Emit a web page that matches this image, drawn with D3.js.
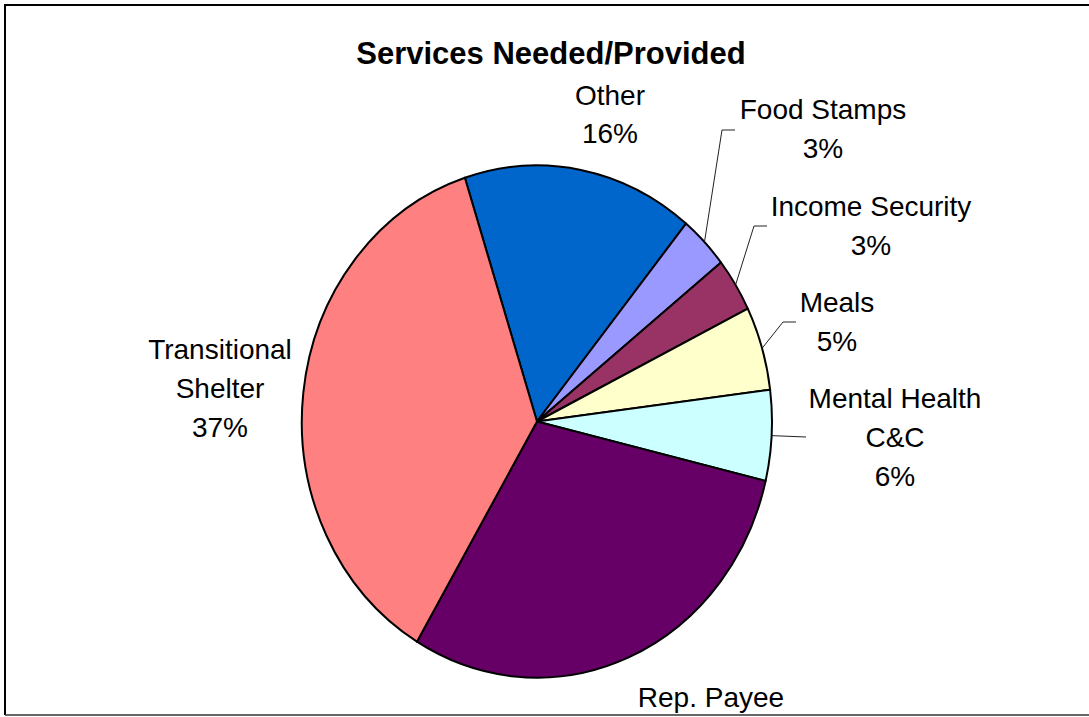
<!DOCTYPE html>
<html>
<head>
<meta charset="utf-8">
<script src="https://cdn.jsdelivr.net/npm/d3@7"></script>
<style>
  body { margin: 0; background: #fff; }
  text { font-family: "Liberation Sans", Arial, sans-serif; fill: #000; }
</style>
</head>
<body>
<div id="chart"></div>
<script>
/**
 * DATA
 * */
const categories = ["Other", "Food Stamps", "Income Security", "Meals", "Mental Health C&C", "Rep. Payee", "Transitional Shelter"];
const shares = [15.9, 3.4, 3.4, 5.3, 5.7, 29.8, 36.5];
const colors = ["#0066CC", "#9999FF", "#993366", "#FFFFCC", "#CCFFFF", "#660066", "#FF8080"];
// label text lines (category name split the way the chart wraps it)
const labelLines = [["Other"], ["Food Stamps"], ["Income Security"], ["Meals"], ["Mental Health", "C&C"], ["Rep. Payee"], ["Transitional", "Shelter"]];

/**
 * LAYOUT
 * */
const width = 1089, height = 717;
const cx = 537, cy = 421.5, rx = 235, ry = 256; // the original chart is stretched vertically
const startDeg = -17.9;
const lineH = 39;

// hand placed label anchors (centre x, first baseline), like the moved labels in the original
// the Rep. Payee percentage falls below the chart frame in the original, so it is not drawn
const labelPos = {
  "Other": { x: 610, y: 105, lh: 38 },
  "Food Stamps": { x: 823, y: 119, elbow: [722, 130], end: [735, 130] },
  "Income Security": { x: 871, y: 216, elbow: [754, 226], end: [767, 226] },
  "Meals": { x: 837, y: 312, elbow: [783, 322], end: [796, 322] },
  "Mental Health C&C": { x: 895, y: 408, elbow: null, end: [806, 437] },
  "Rep. Payee": { x: 711, y: 707, noPct: true },
  "Transitional Shelter": { x: 220, y: 359 },
};

const svg = d3.select("#chart")
  .append("svg")
  .attr("width", width)
  .attr("height", height);

const g = svg.append("g");

const data = categories.map((c, i) => ({ name: c, value: shares[i], color: colors[i], lines: labelLines[i] }));

const pie = d3.pie()
  .value(d => d.value)
  .sort(null)
  .startAngle(startDeg * Math.PI / 180)
  .endAngle(startDeg * Math.PI / 180 + 2 * Math.PI);

const arcs = pie(data);
const arc = d3.arc().innerRadius(0).outerRadius(1);

// pie slices, drawn on a unit circle then stretched to the ellipse
g.append("g")
  .attr("transform", `translate(${cx},${cy}) scale(${rx},${ry})`)
  .selectAll("path")
  .data(arcs)
  .join("path")
  .attr("d", arc)
  .attr("fill", d => d.data.color)
  .attr("stroke", "#000")
  .attr("stroke-width", 2)
  .attr("stroke-linejoin", "round")
  .attr("vector-effect", "non-scaling-stroke");

// leader lines
const edgePoint = d => {
  const a = (d.startAngle + d.endAngle) / 2;
  return [cx + rx * Math.sin(a), cy - ry * Math.cos(a)];
};

g.append("g")
  .selectAll("path")
  .data(arcs.filter(d => labelPos[d.data.name].end))
  .join("path")
  .attr("fill", "none")
  .attr("stroke", "#222")
  .attr("stroke-width", 1)
  .attr("d", d => {
    const p = labelPos[d.data.name];
    const pts = [edgePoint(d)];
    if (p.elbow) pts.push(p.elbow);
    pts.push(p.end);
    return d3.line()(pts);
  });

// labels
const labels = g.append("g")
  .selectAll("text")
  .data(arcs)
  .join("text")
  .attr("text-anchor", "middle")
  .attr("font-size", 28)
  .attr("x", d => labelPos[d.data.name].x)
  .attr("y", d => labelPos[d.data.name].y);

labels.selectAll("tspan")
  .data(d => {
    const p = labelPos[d.data.name];
    const pct = d3.format(".0f")(d.data.value) + "%";
    const lines = p.noPct ? d.data.lines : d.data.lines.concat([pct]);
    return lines.map((t, i) => ({ t, x: p.x, dy: i === 0 ? 0 : (p.lh || lineH) }));
  })
  .join("tspan")
  .attr("x", d => d.x)
  .attr("dy", d => d.dy)
  .text(d => d.t);

// title
svg.append("text")
  .attr("x", 551)
  .attr("y", 64)
  .attr("text-anchor", "middle")
  .attr("font-size", 31)
  .attr("font-weight", "bold")
  .text("Services Needed/Provided");

// chart area border (left and top heavy, bottom thin, right runs off the picture)
svg.append("path")
  .attr("d", d3.line()([[5, 715], [5, 5], [width, 5]]))
  .attr("fill", "none")
  .attr("stroke", "#000")
  .attr("stroke-width", 2);

svg.append("line")
  .attr("x1", 5).attr("x2", width)
  .attr("y1", 715).attr("y2", 715)
  .attr("stroke", "#333")
  .attr("stroke-width", 1.5);
</script>
</body>
</html>
